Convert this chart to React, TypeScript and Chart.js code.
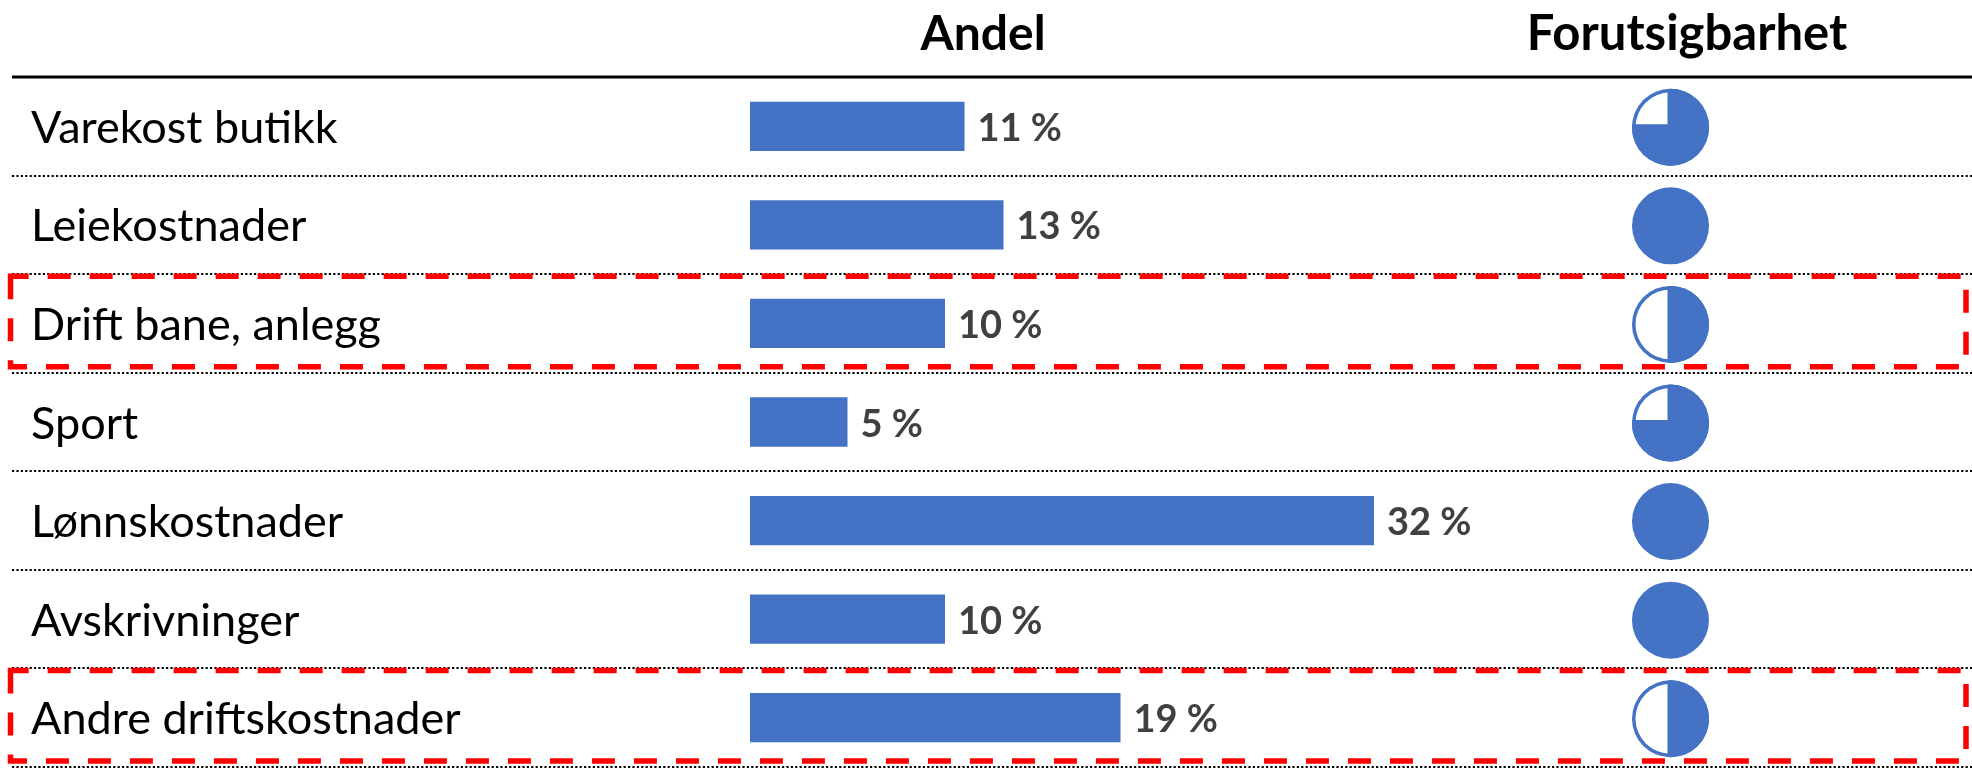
import React, { useEffect, useRef } from 'react';
import { Chart, registerables } from 'chart.js';

Chart.register(...registerables);

// ---- data ----
const categories = [
  'Varekost butikk',
  'Leiekostnader',
  'Drift bane, anlegg',
  'Sport',
  'Lønnskostnader',
  'Avskrivninger',
  'Andre driftskostnader',
];
const shares = [11, 13, 10, 5, 32, 10, 19];
const predictability = [0.75, 1, 0.5, 0.75, 1, 1, 0.5];
const highlighted = [false, false, true, false, false, false, true];
const headers = ['Andel', 'Forutsigbarhet'];

// ---- styles ----
const BLUE = '#4472C4';
const FONT = 'Lato';
const W = 1972;
const H = 768;

function drawPie(ctx: CanvasRenderingContext2D, cx: number, cy: number, R: number, frac: number) {
  ctx.save();
  ctx.beginPath();
  ctx.arc(cx, cy, R, 0, Math.PI * 2);
  ctx.fillStyle = BLUE;
  ctx.fill();
  if (frac < 1) {
    ctx.clip();
    ctx.beginPath();
    ctx.arc(cx, cy, R - 3.5, 0, Math.PI * 2);
    ctx.fillStyle = '#ffffff';
    ctx.fill();
    const a0 = -Math.PI / 2;
    const a1 = a0 + frac * Math.PI * 2;
    ctx.beginPath();
    ctx.moveTo(cx, cy);
    ctx.arc(cx, cy, R, a0, a1);
    ctx.closePath();
    ctx.fillStyle = BLUE;
    ctx.fill();
    ctx.lineWidth = 6;
    ctx.lineJoin = 'miter';
    ctx.strokeStyle = BLUE;
    ctx.stroke();
  }
  ctx.restore();
}

const tablePlugin = {
  id: 'tableDecor',
  afterDraw(chart: any) {
    const { ctx, chartArea, scales } = chart;
    const y = scales.y;
    const band = y.getPixelForValue(1) - y.getPixelForValue(0);
    const lineLeft = 12;
    const lineRight = W;

    ctx.save();
    // headers
    ctx.fillStyle = '#000';
    ctx.textAlign = 'center';
    ctx.textBaseline = 'alphabetic';
    ctx.font = `bold 48px ${FONT}`;
    ctx.fillText(headers[0], 983, 50);
    ctx.font = `bold 49px ${FONT}`;
    ctx.fillText(headers[1], 1687, 50);

    // thick header rule
    ctx.beginPath();
    ctx.lineWidth = 3;
    ctx.strokeStyle = '#000';
    ctx.moveTo(lineLeft, chartArea.top);
    ctx.lineTo(lineRight, chartArea.top);
    ctx.stroke();

    // dotted row separators
    ctx.lineWidth = 2.2;
    ctx.setLineDash([2.2, 2.2]);
    for (let i = 0; i < categories.length; i++) {
      const yy = Math.round(y.getPixelForValue(i) + band / 2);
      ctx.beginPath();
      ctx.moveTo(lineLeft, yy);
      ctx.lineTo(lineRight, yy);
      ctx.stroke();
    }
    ctx.setLineDash([]);

    // category labels
    ctx.font = `45px ${FONT}`;
    ctx.fillStyle = '#000';
    ctx.textAlign = 'left';
    ctx.textBaseline = 'alphabetic';
    categories.forEach((label, i) => {
      ctx.fillText(label, 31, y.getPixelForValue(i) + 16.5);
    });

    // value labels
    const meta = chart.getDatasetMeta(0);
    ctx.font = `bold 38px ${FONT}`;
    ctx.fillStyle = '#404040';
    meta.data.forEach((el: any, i: number) => {
      ctx.fillText(`${shares[i]} %`, el.x + 13, y.getPixelForValue(i) + 14.5);
    });

    // predictability pies
    predictability.forEach((f, i) => {
      drawPie(ctx, 1670.5, y.getPixelForValue(i) + 1, 38.5, f);
    });

    // highlight boxes
    ctx.strokeStyle = '#FF0000';
    ctx.lineWidth = 5.5;
    ctx.setLineDash([23, 19]);
    ctx.lineJoin = 'miter';
    highlighted.forEach((h, i) => {
      if (!h) return;
      const c = y.getPixelForValue(i);
      const top = c - band / 2 + 2;
      const bottom = c + band / 2 - 6;
      const left = 10.5;
      const right = 1966;
      ctx.beginPath();
      ctx.moveTo(left, top);
      ctx.lineTo(left, bottom);
      ctx.lineTo(right, bottom);
      ctx.lineTo(right, top);
      ctx.closePath();
      ctx.stroke();
    });
    ctx.restore();
  },
};

export default function App() {
  const ref = useRef<HTMLCanvasElement | null>(null);

  useEffect(() => {
    if (!ref.current) return;
    const chart = new Chart(ref.current, {
      type: 'bar',
      data: {
        labels: categories,
        datasets: [
          {
            data: shares,
            backgroundColor: BLUE,
            borderWidth: 0,
            categoryPercentage: 1,
            barPercentage: 0.5,
          },
        ],
      },
      options: {
        indexAxis: 'y',
        responsive: false,
        animation: false,
        devicePixelRatio: 1,
        layout: { padding: { top: 77, bottom: 1, left: 750, right: 52 } },
        plugins: {
          legend: { display: false },
          tooltip: { enabled: false },
          title: { display: false },
        },
        scales: {
          x: {
            display: false,
            min: 0,
            max: 60,
          },
          y: {
            display: false,
          },
        },
      },
      plugins: [tablePlugin],
    });
    return () => chart.destroy();
  }, []);

  return (
    <div style={{ position: 'fixed', left: 0, top: 0, width: W, height: H, background: '#fff' }}>
      <canvas ref={ref} width={W} height={H} style={{ width: W, height: H, display: 'block' }} />
    </div>
  );
}
